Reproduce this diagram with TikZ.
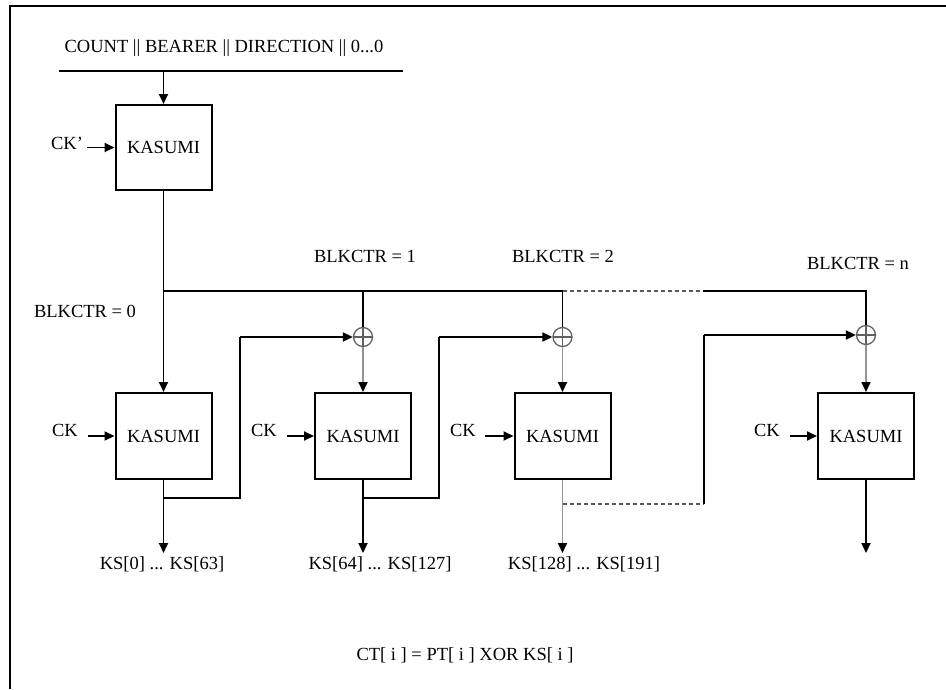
\documentclass[tikz,border=0pt]{standalone}
\usepackage{fontspec}
\setmainfont{Liberation Serif}
\usetikzlibrary{arrows.meta}
\begin{document}
\begin{tikzpicture}[x=1pt,y=-1pt,
  font=\fontsize{18.5}{20}\selectfont,
  ln/.style={line width=1.9pt},
  arr/.style={ln,-{Triangle[length=10pt,width=9pt,color=black]}},
  garr/.style={arr,draw=gray!85},
  dashln/.style={line width=1.1pt,draw=gray!70!black,dash pattern=on 4pt off 3pt},
  kbox/.style={draw,line width=2pt,minimum width=96pt,minimum height=86pt,inner sep=0pt},
  xorst/.style={circle,draw=gray!75!black,line width=1.3pt,minimum size=19pt,inner sep=0pt,
    path picture={\draw[gray!75!black,line width=1.1pt]
      (path picture bounding box.north) -- (path picture bounding box.south)
      (path picture bounding box.west) -- (path picture bounding box.east);}},
  lbl/.style={inner sep=0pt}]
\useasboundingbox (0,0) rectangle (946,689);

% frame
\coordinate (fr1) at (10,6);
\coordinate (fr2) at (946,6);
\coordinate (fr3) at (10,689);
\draw[line width=2.5pt] (fr3) -- (fr1) -- (fr2);

% header
\node[lbl] (hdr) at (224,48) {COUNT || BEARER || DIRECTION || 0...0};
\coordinate (hl) at (59,71);
\coordinate (hr) at (403,71);
\draw[ln] (hl) -- (hr);
\coordinate (hin) at (163.5,71);

% boxes
\node[kbox,minimum height=85pt] (k0) at (163.5,147.5) {KASUMI};
\node[kbox] (k1) at (163.5,436) {KASUMI};
\node[kbox] (k2) at (363,436) {KASUMI};
\node[kbox] (k3) at (562.5,436) {KASUMI};
\node[kbox] (k4) at (866,436) {KASUMI};

\draw[arr] (hin) -- (k0.north);

% CK inputs
\node[lbl] (ckp) at (67,143) {CK'};
\coordinate (ckp0) at (87,147.5);
\draw[arr] (ckp0) -- (k0.west);

\node[lbl] (ck1) at (65,430) {CK};
\coordinate (ck1a) at (88,436);
\draw[arr] (ck1a) -- (k1.west);
\node[lbl] (ck2) at (264,430) {CK};
\coordinate (ck2a) at (287,436);
\draw[arr] (ck2a) -- (k2.west);
\node[lbl] (ck3) at (463,430) {CK};
\coordinate (ck3a) at (485,436);
\draw[arr] (ck3a) -- (k3.west);
\node[lbl] (ck4) at (767,430) {CK};
\coordinate (ck4a) at (790,436);
\draw[arr] (ck4a) -- (k4.west);

% counter bus
\node[lbl] (c0) at (85,311) {BLKCTR = 0};
\node[lbl] (c1) at (365,256) {BLKCTR = 1};
\node[lbl] (c2) at (563,256) {BLKCTR = 2};
\node[lbl] (cn) at (858,263) {BLKCTR = n};

\node[xorst] (x1) at (363,337) {};
\node[xorst] (x2) at (562.5,337) {};
\node[xorst] (x3) at (866,335) {};

\draw[arr] (k0.south) -- (k1.north);
\coordinate (j0) at (163.5,291);
\coordinate (j1) at (363,291);
\coordinate (j2) at (562.5,291);
\coordinate (jd) at (703,291);
\coordinate (j4) at (866,291);
\draw[ln] (j0) -- (j2);
\draw[dashln] (j2) -- (jd);
\draw[ln] (jd) -- (j4) -- (x3.north);
\draw[ln] (j1) -- (x1.north);
\draw[ln] (j2) -- (x2.north);

\draw[garr] (x1.south) -- (k2.north);
\draw[garr] (x2.south) -- (k3.north);
\draw[garr] (x3.south) -- (k4.north);

% outputs
\coordinate (o1) at (163.5,553);
\coordinate (o2) at (363,553);
\coordinate (o3) at (562.5,553);
\coordinate (o4) at (866,553);
\draw[arr] (k1.south) -- (o1);
\draw[arr] (k2.south) -- (o2);
\draw[garr] (k3.south) -- (o3);
\draw[arr] (k4.south) -- (o4);

\node[lbl] (ks1) at (162,564) {KS[0] ... KS[63]};
\node[lbl] (ks2) at (380,564) {KS[64] ... KS[127]};
\node[lbl] (ks3) at (584,564) {KS[128] ... KS[191]};

% feedbacks
\coordinate (b1) at (163.5,498);
\coordinate (f1a) at (240,498);
\coordinate (f1b) at (240,337);
\draw[ln] (b1) -- (f1a) -- (f1b);
\draw[arr] (f1b) -- (x1.west);

\coordinate (b2) at (363,498);
\coordinate (f2a) at (439,498);
\coordinate (f2b) at (439,337);
\draw[ln] (b2) -- (f2a) -- (f2b);
\draw[arr] (f2b) -- (x2.west);

\coordinate (b3) at (562.5,504);
\coordinate (f3a) at (704,504);
\coordinate (f3b) at (704,335);
\draw[dashln] (b3) -- (f3a);
\draw[ln] (f3a) -- (f3b);
\draw[arr] (f3b) -- (x3.west);

% formula
\node[lbl] (ct) at (465,655) {CT[ i ] = PT[ i ] XOR KS[ i ]};
\end{tikzpicture}
\end{document}
